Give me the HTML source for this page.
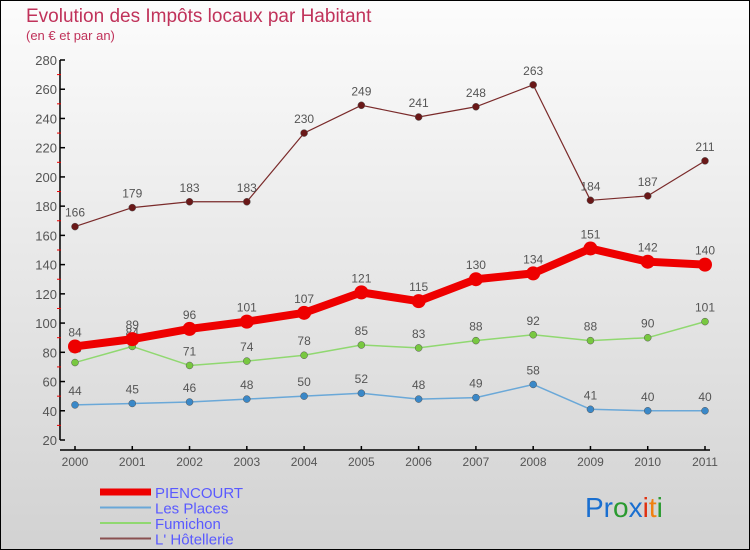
<!DOCTYPE html>
<html><head><meta charset="utf-8"><style>
body{margin:0}
#c{width:750px;height:550px;position:relative;box-sizing:border-box;border:1px solid #000;background:linear-gradient(#fcfcfc,#d2d2d2);font-family:"Liberation Sans",sans-serif;overflow:hidden}
</style></head><body>
<div id="c">
<svg id="s" width="750" height="550" style="position:absolute;left:-1px;top:-1px">
<text x="26" y="22" font-size="19" fill="#c0325a">Evolution des Impôts locaux par Habitant</text>
<text x="26" y="40" font-size="13" fill="#c0325a">(en € et par an)</text>
<text x="585" y="517" font-size="28"><tspan fill="#1a6fd0">Pr</tspan><tspan fill="#2a9a30">o</tspan><tspan fill="#1a6fd0">x</tspan><tspan fill="#e03010">i</tspan><tspan fill="#f08010">t</tspan><tspan fill="#2a9a30">i</tspan></text>
</svg>
</div>
<script>
const years=["2000","2001","2002","2003","2004","2005","2006","2007","2008","2009","2010","2011"];
const yTicks=[20,40,60,80,100,120,140,160,180,200,220,240,260,280];
const piencourt=[84,89,96,101,107,121,115,130,134,151,142,140];
const lesPlaces=[44,45,46,48,50,52,48,49,58,41,40,40];
const fumichon=[73,84,71,74,78,85,83,88,92,88,90,101];
const hotellerie=[166,179,183,183,230,249,241,248,263,184,187,211];
const NS="http://www.w3.org/2000/svg";
const s=document.getElementById('s');
const X=i=>75+i*630/11;
const Y=v=>440-(v-20)*380/260;
function el(t,a,p){const e=document.createElementNS(NS,t);for(const k in a)e.setAttribute(k,a[k]);(p||s).appendChild(e);return e;}
let ax=el('line',{x1:60,y1:60,x2:60,y2:440,stroke:'#000','stroke-width':1.5});


let bx=el('line',{x1:60,y1:450,x2:710,y2:450,stroke:'#000','stroke-width':1.5});


yTicks.forEach((v,i)=>{
 el('line',{x1:60,y1:Y(v),x2:65,y2:Y(v),stroke:'#000','stroke-width':1.5});
 if(i<yTicks.length-1){el('line',{x1:57,y1:Y(v+10),x2:61,y2:Y(v+10),stroke:'#e00','stroke-width':1});}
 const t=el('text',{x:57,y:Y(v)+5,'font-size':13,fill:'#555','text-anchor':'end'});t.textContent=v;
 
 
});
years.forEach((y,i)=>{
 el('line',{x1:X(i),y1:446,x2:X(i),y2:450,stroke:'#000','stroke-width':1.5});
 const t=el('text',{x:X(i),y:466,'font-size':12,fill:'#555','text-anchor':'middle'});t.textContent=y;
 
 
});
const series=[
 {d:hotellerie,c:'#7a2a2a',f:'#6a1818',w:1.2,r:3.5,n:'series-hotellerie'},
 {d:fumichon,c:'#90d870',f:'#78c840',w:1.5,r:3.5,n:'series-fumichon'},
 {d:lesPlaces,c:'#6aa8d8',f:'#3a88c8',w:1.5,r:3.5,n:'series-les-places'},
 {d:piencourt,c:'#ee0000',f:'#ee0000',w:8,r:7,n:'series-piencourt'}
];
series.forEach(o=>{
 const g=el('g',{});
 
 
 el('polyline',{points:o.d.map((v,i)=>X(i)+','+Y(v)).join(' '),fill:'none',stroke:o.c,'stroke-width':o.w,'stroke-linejoin':'round'},g);
 o.d.forEach((v,i)=>{
  const c=el('circle',{cx:X(i),cy:Y(v),r:o.r,fill:o.f,stroke:o.r>5?'none':'#555','stroke-width':0.5},g);
  
  
  const t=el('text',{x:X(i),y:Y(v)-10,'font-size':12,fill:'#555','text-anchor':'middle'},g);t.textContent=v;
  
  
 });
});
const leg=[['PIENCOURT','#ee0000',7],['Les Places','#6aa8d8',2],['Fumichon','#90d870',2],["L' Hôtellerie",'#8a5050',2]];
leg.forEach((l,i)=>{
 const g=el('g',{});
 
 
 const y=492+i*15.5;
 el('line',{x1:100,y1:y,x2:151,y2:y,stroke:l[1],'stroke-width':l[2]},g);
 const t=el('text',{x:155,y:y+6,'font-size':15,fill:'#5a5aff'},g);t.textContent=l[0];
});
</script>
</body></html>
